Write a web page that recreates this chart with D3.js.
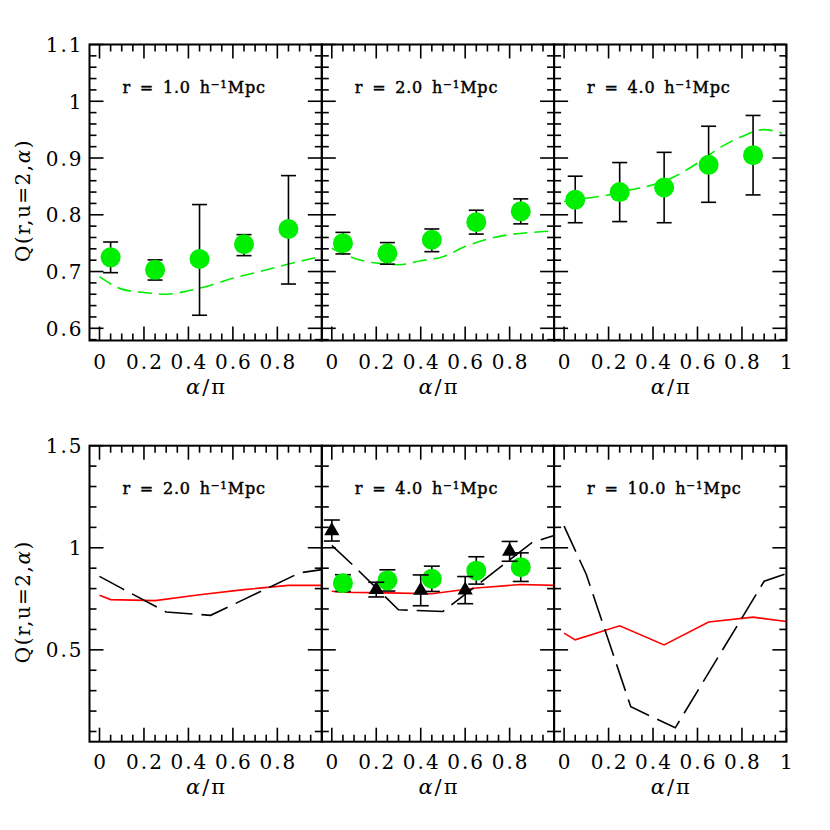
<!DOCTYPE html>
<html>
<head>
<meta charset="utf-8">
<script src="https://cdn.jsdelivr.net/npm/d3@7"></script>
<style>
  body { margin: 0; background: #fff; }
  svg { display: block; }
  .tick-label { font-family: "DejaVu Serif", serif; font-size: 20px; letter-spacing: 2px; }
  .axis-title { font-family: "DejaVu Serif", serif; font-size: 21px; letter-spacing: 2px; }
  .ytitle { font-family: "DejaVu Serif", serif; font-size: 20px; letter-spacing: 1.5px; }
  .panel-label { font-family: "DejaVu Serif", serif; font-size: 16px; stroke: #000; stroke-width: 0.45px; letter-spacing: 0.8px; word-spacing: 3px; }
</style>
</head>
<body>
<svg width="830" height="830"></svg>
<script>
// ---- data ----
var alphaPts = [0.05, 0.25, 0.45, 0.65, 0.85];

// top row: measured Q with error bars, r = 1, 2, 4
var q1   = [0.725, 0.703, 0.722, 0.748, 0.775];
var q1Hi = [0.752, 0.7205, 0.818, 0.765, 0.869];
var q1Lo = [0.698, 0.685, 0.623, 0.728, 0.678];

var q2   = [0.750, 0.732, 0.756, 0.787, 0.806];
var q2Hi = [0.769, 0.751, 0.775, 0.808, 0.828];
var q2Lo = [0.731, 0.713, 0.735, 0.766, 0.784];

var q4   = [0.8265, 0.840, 0.848, 0.888, 0.905];
var q4Hi = [0.868, 0.892, 0.910, 0.956, 0.975];
var q4Lo = [0.786, 0.788, 0.786, 0.822, 0.835];

// top row: green dashed model curves
var curveAlpha = [0, 0.1, 0.2, 0.3, 0.4, 0.5, 0.6, 0.7, 0.8, 0.9, 0.98];
var curve1 = [0.691, 0.669, 0.663, 0.660, 0.666, 0.676, 0.688, 0.698, 0.708, 0.718, 0.725];
var curve2 = [0.741, 0.7235, 0.715, 0.712, 0.719, 0.726, 0.744, 0.757, 0.765, 0.769, 0.771];
var curve4 = [0.8235, 0.829, 0.835, 0.844, 0.853, 0.868, 0.891, 0.918, 0.938, 0.950, 0.944];

// bottom row: red solid lines, r = 2, 4, 10
var redAlpha = [0, 0.05, 0.25, 0.45, 0.65, 0.85, 1.0];
var red2  = [0.767, 0.746, 0.741, 0.770, 0.795, 0.816, 0.816];
var red4  = [0.787, 0.782, 0.779, 0.775, 0.803, 0.820, 0.816];
var red10 = [0.582, 0.549, 0.618, 0.524, 0.636, 0.660, 0.639];

// bottom row: black long-dashed lines
var dashAlpha = [0, 0.1, 0.3, 0.5, 0.9, 1.0];
var dash2  = [0.860, 0.801, 0.685, 0.669, 0.877, 0.893];
var dash4  = [1.012, 0.910, 0.696, 0.688, 1.025, 1.060];
var dash10 = [1.106, 0.869, 0.221, 0.118, 0.836, 0.874];

// bottom row: black triangles (r = 4 panel)
var triAlpha = [0, 0.2, 0.4, 0.6, 0.8];
var tri4   = [1.083, 0.795, 0.791, 0.792, 0.983];
var tri4Hi = [1.136, 0.831, 0.867, 0.859, 1.031];
var tri4Lo = [1.033, 0.759, 0.716, 0.726, 0.934];

var topLabels = ["r = 1.0", "r = 2.0", "r = 4.0"];
var botLabels = ["r = 2.0", "r = 4.0", "r = 10.0"];

// ---- layout ----
var svg = d3.select("svg");
var panelW = 232.3, panelH = 296;
var left0 = 89.5;
var rowTop = [44.5, 445.7];
var green = "#00ee00";

var x = d3.scaleLinear().domain([-0.045, 1.0]).range([0, panelW]);
var yTop = d3.scaleLinear().domain([0.5785, 1.1]).range([panelH, 0]);
var yBot = d3.scaleLinear().domain([0.05, 1.5]).range([panelH, 0]);

function zip(xs, ys) { return xs.map(function(v, i) { return [v, ys[i]]; }); }
function steps(a, b, s) {
  var out = [];
  for (var v = a; v <= b + 1e-9; v += s) out.push(Math.round(v * 1000) / 1000);
  return out;
}

function drawFrame(g, y, yMajor, yMinor) {
  var xMajor = [0, 0.2, 0.4, 0.6, 0.8, 1.0];
  var xMinor = steps(0, 1, 0.05).filter(function(v) { return xMajor.indexOf(v) < 0; });
  var ticks = g.append("g").attr("stroke", "#000").attr("stroke-width", 1.6);
  [[xMajor, 14], [xMinor, 7]].forEach(function(p) {
    p[0].forEach(function(v) {
      ticks.append("line").attr("x1", x(v)).attr("x2", x(v)).attr("y1", panelH).attr("y2", panelH - p[1]);
      ticks.append("line").attr("x1", x(v)).attr("x2", x(v)).attr("y1", 0).attr("y2", p[1]);
    });
  });
  [[yMajor, 14], [yMinor, 7]].forEach(function(p) {
    p[0].forEach(function(v) {
      ticks.append("line").attr("y1", y(v)).attr("y2", y(v)).attr("x1", 0).attr("x2", p[1]);
      ticks.append("line").attr("y1", y(v)).attr("y2", y(v)).attr("x1", panelW).attr("x2", panelW - p[1]);
    });
  });
  g.append("rect").attr("width", panelW).attr("height", panelH)
    .attr("fill", "none").attr("stroke", "#000").attr("stroke-width", 2);
}

function drawXLabels(g, last, baseY, titleY) {
  var labs = last ? [0, 0.2, 0.4, 0.6, 0.8, 1] : [0, 0.2, 0.4, 0.6, 0.8];
  g.selectAll(".xl").data(labs).enter().append("text")
    .attr("class", "tick-label")
    .attr("x", function(d) { return x(d) + 1; })
    .attr("y", baseY)
    .attr("text-anchor", "middle")
    .text(function(d) { return d === 0 || d === 1 ? String(d) : d.toFixed(1); });
  var t = g.append("text").attr("class", "axis-title")
    .attr("x", panelW / 2 + 1).attr("y", titleY)
    .attr("text-anchor", "middle");
  t.append("tspan").attr("font-style", "italic").text("\u03b1");
  t.append("tspan").text("/\u03c0");
}

function drawPanelLabel(g, txt) {
  var t = g.append("text").attr("class", "panel-label").attr("x", 33).attr("y", 48);
  t.append("tspan").text(txt + " h");
  t.append("tspan").attr("dy", -5).attr("font-size", "10.5px").text("\u22121");
  t.append("tspan").attr("dy", 5).text("Mpc");
}

function errorBars(g, y, xs, hi, lo, cap) {
  var eb = g.append("g").attr("stroke", "#000").attr("stroke-width", 1.6);
  xs.forEach(function(a, i) {
    eb.append("line").attr("x1", x(a)).attr("x2", x(a)).attr("y1", y(hi[i])).attr("y2", y(lo[i]));
    eb.append("line").attr("x1", x(a) - cap).attr("x2", x(a) + cap).attr("y1", y(hi[i])).attr("y2", y(hi[i]));
    eb.append("line").attr("x1", x(a) - cap).attr("x2", x(a) + cap).attr("y1", y(lo[i])).attr("y2", y(lo[i]));
  });
}

function circles(g, y, xs, vals) {
  g.selectAll(".pt").data(zip(xs, vals)).enter().append("circle")
    .attr("cx", function(d) { return x(d[0]); })
    .attr("cy", function(d) { return y(d[1]); })
    .attr("r", 10).attr("fill", green);
}

function line(g, y, pts, color, dash, curve) {
  var gen = d3.line().x(function(d) { return x(d[0]); }).y(function(d) { return y(d[1]); });
  if (curve) gen.curve(curve);
  g.append("path").attr("d", gen(pts)).attr("fill", "none")
    .attr("stroke", color).attr("stroke-width", 1.6)
    .attr("stroke-dasharray", dash || null);
}

// ---- top row ----
var topData = [
  {q: q1, hi: q1Hi, lo: q1Lo, curve: curve1},
  {q: q2, hi: q2Hi, lo: q2Lo, curve: curve2},
  {q: q4, hi: q4Hi, lo: q4Lo, curve: curve4}
];
topData.forEach(function(d, i) {
  var g = svg.append("g").attr("transform", "translate(" + (left0 + i * panelW) + "," + rowTop[0] + ")");
  line(g, yTop, zip(curveAlpha, d.curve), green, "14,7", d3.curveMonotoneX);
  errorBars(g, yTop, alphaPts, d.hi, d.lo, 7.5);
  circles(g, yTop, alphaPts, d.q);
  drawFrame(g, yTop, steps(0.6, 1.1, 0.1), steps(0.58, 1.1, 0.02).filter(function(v) { return Math.round(v * 100) % 10 !== 0; }));
  drawPanelLabel(g, topLabels[i]);
  drawXLabels(g, i === 2, 324.5, 349);
});

// ---- bottom row ----
var botData = [
  {red: red2, dash: dash2},
  {red: red4, dash: dash4},
  {red: red10, dash: dash10}
];
botData.forEach(function(d, i) {
  var g = svg.append("g").attr("transform", "translate(" + (left0 + i * panelW) + "," + rowTop[1] + ")");
  line(g, yBot, zip(redAlpha, d.red), "#ff0000", null);
  line(g, yBot, zip(dashAlpha, d.dash), "#000", "28,9");
  if (i === 1) {
    errorBars(g, yBot, alphaPts, q4Hi, q4Lo, 8);
    circles(g, yBot, alphaPts, q4);
    errorBars(g, yBot, triAlpha, tri4Hi, tri4Lo, 8);
    g.selectAll(".tri").data(zip(triAlpha, tri4)).enter().append("path")
      .attr("d", d3.symbol(d3.symbolTriangle, 100))
      .attr("transform", function(p) { return "translate(" + x(p[0]) + "," + yBot(p[1]) + ")"; })
      .attr("fill", "#000");
  }
  drawFrame(g, yBot, [0.5, 1.0, 1.5], steps(0.1, 1.4, 0.1).filter(function(v) { return v !== 0.5 && v !== 1; }));
  drawPanelLabel(g, botLabels[i]);
  drawXLabels(g, i === 2, 323.5, 348);
});

// ---- y axes (left column only) ----
function yLabels(top, y, vals) {
  var g = svg.append("g").attr("transform", "translate(" + left0 + "," + top + ")");
  g.selectAll("text").data(vals).enter().append("text")
    .attr("class", "tick-label")
    .attr("x", -6).attr("y", function(d) { return y(d) + 7.5; })
    .attr("text-anchor", "end")
    .text(function(d) { return d === 1 ? "1" : String(d); });
  var t = g.append("text").attr("class", "ytitle")
    .attr("transform", "translate(-60," + (panelH / 2 + 8) + ") rotate(-90)")
    .attr("text-anchor", "middle");
  t.append("tspan").text("Q(r,u=2,");
  t.append("tspan").attr("font-style", "italic").text("\u03b1");
  t.append("tspan").text(")");
}
yLabels(rowTop[0], yTop, [0.6, 0.7, 0.8, 0.9, 1, 1.1]);
yLabels(rowTop[1], yBot, [0.5, 1, 1.5]);
</script>
</body>
</html>
